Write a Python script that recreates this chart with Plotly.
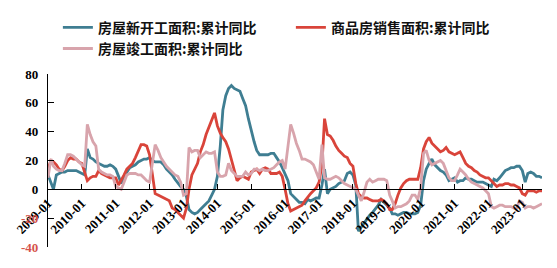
import plotly.graph_objects as go
import pandas as pd

dates = pd.date_range("2009-01-01", periods=176, freq="MS")

new_starts = [
    10, 5, 0, 10, 11, 12, 12, 13, 13, 13, 13, 12,
    11, 10, 28, 22, 21, 19, 18, 17, 16, 16, 17, 16,
    14, 9, 4, 9, 12, 15, 16, 17, 19, 20, 21, 21,
    22, 20, 19, 19, 19, 17, 14, 12, 10, 7, 4, 2,
    0, -5, -14, -16, -17, -16, -14, -12, -10, -8, -4, 0,
    9, 30, 55, 65, 70, 72, 70, 69, 68, 63, 58, 49,
    40, 33, 27, 24, 24, 24, 24, 25, 25, 22, 19, 15,
    10, 6, -3, -5, -7, -9, -9, -10, -7, -8, -7, -6,
    -6, 3, 14, -3, 0, 1, 2, 4, 5, 6, 11, 12,
    10, 3, -29, -26, -23, -20, -18, -16, -13, -11, -7, -9,
    -11, -13, -17, -17, -18, -17, -16, -16, -17, -17, -17, -16,
    -11, 6, 14, 18, 21, 17, 15, 13, 12, 10, 6, 7,
    8, 5, 6, 6, 8, 7, 7, 6, 5, 5, 5, 4,
    3, 2, 7, 6, 8, 11, 13, 14, 15, 15, 16, 16,
    13, 5, 11, 12, 11, 9, 9, 8,
]

sales = [
    14, 20, 19, 17, 14, 13, 16, 20, 22, 21, 21, 19,
    18, 12, 6, 8, 9, 9, 13, 11, 10, 9, 8, 8,
    8, 3, 6, 10, 14, 16, 18, 22, 27, 31, 31, 30,
    24, 10, -3, -4, -5, -6, -7, -8, -13, -14, -16, -18,
    -20, -13, 0, 10, 14, 18, 26, 31, 38, 43, 48, 53,
    44, 39, 36, 33, 28, 20, 14, 6, 8, 9, 8, 7,
    12, 13, 14, 11, 14, 15, 14, 11, 11, 11, 12, 9,
    0, -10, -15, -14, -13, -12, -11, -8, -5, -3, -1, 1,
    5, 17, 49, 38, 37, 34, 30, 27, 25, 23, 22, 18,
    16, 4, -3, -5, -6, -6, -7, -8, -8, -8, -7, -8,
    -10, -14, -14, -10, -4, 1, 4, 6, 7, 7, 7, 7,
    15, 28, 33, 36, 32, 30, 28, 26, 27, 29, 26, 25,
    24, 25, 26, 22, 18, 16, 15, 13, 12, 10, 9, 8,
    8, 6, 4, 2, 3, 3, 4, 4, 3, 3, 2, 1,
    -3, -4, -1, -1, -1, -2, -1, -1,
]

completions = [
    8, 21, 16, 14, 13, 13, 18, 24, 24, 23, 21, 19,
    17, 16, 45, 38, 33, 30, 14, 12, 11, 10, 10, 9,
    2, 1, 0, 5, 10, 11, 11, 11, 10, 10, 8, 6,
    5, 20, 31, 27, 22, 19, 16, 14, 12, 10, 9, 5,
    -4, -3, 29, 26, 27, 27, 22, 24, 26, 25, 25, 26,
    12, 9, 9, 10, 18, 13, 11, 9, 9, 9, 12, 10,
    11, 14, 14, 13, 14, 13, 13, 14, 15, 17, 19, 20,
    14, 30, 45, 39, 32, 27, 21, 21, 20, 19, 17, 12,
    7, 31, 8, 7, 7, 8, 9, 8, 6, 4, 3, 2,
    1, 0, -4, -8, -2, 5, 7, 5, 6, 7, 7, 7,
    6, -4, -8, -13, -12, -12, -11, -10, -8, -4, -4, -7,
    1, 25, 27, 20, 17, 18, 19, 20, 18, 13, 8, 6,
    6, 10, 14, 12, 10, 7, 5, 4, 3, 2, 1, -1,
    -3, -12, -13, -12, -11, -11, -12, -12, -12, -13, -13, -8,
    -9, -13, -12, -12, -13, -12, -11, -10,
]

names = ["房屋新开工面积:累计同比", "商品房销售面积:累计同比", "房屋竣工面积:累计同比"]
colors = ["#3f7e92", "#d9443a", "#d8a4ac"]

y_tickvals = [80, 60, 40, 20, 0, -20, -40]
y_ticktext = ["80", "60", "40", "20", "0",
              '<span style="color:#d6534c">-20</span>',
              '<span style="color:#d6534c">-40</span>']

fig = go.Figure()
for name, vals, col in zip(names, [new_starts, sales, completions], colors):
    fig.add_trace(go.Scatter(x=dates, y=vals, mode="lines", name=name,
                             line=dict(color=col, width=2.8)))

fig.update_layout(
    width=557, height=268,
    margin=dict(l=48, r=15, t=70, b=21),
    plot_bgcolor="white", paper_bgcolor="white",
    showlegend=True,
    legend=dict(orientation="h", x=0.02, y=1.36, xanchor="left", yanchor="top",
                entrywidth=188, entrywidthmode="pixels",
                font=dict(family="Noto Sans CJK SC", size=14, color="#111", weight="bold"),
                tracegroupgap=0, itemwidth=30),
    font=dict(family="Liberation Serif", size=13, color="black"),
)

fig.update_xaxes(
    range=["2009-01-01", "2023-08-01"],
    tickformat="%Y-%m", dtick="M12", tick0="2009-01-01",
    tickangle=-45, ticks="inside", ticklen=5, tickcolor="black",
    showline=True, linecolor="black", linewidth=1.3,
    showgrid=False, zeroline=False,
    anchor="free", position=1/3, automargin=False,
    tickfont=dict(family="Liberation Serif", size=13, color="black", weight="bold"),
)
fig.update_yaxes(
    range=[-40, 80], tickvals=y_tickvals, ticktext=y_ticktext,
    ticks="inside", ticklen=6, tickcolor="black",
    showline=True, linecolor="black", linewidth=1.3,
    showgrid=False, zeroline=False, automargin=False,
    ticklabelstandoff=6,
    tickfont=dict(family="Liberation Serif", size=13, color="black", weight="bold"),
)

fig.write_html("out.html")
